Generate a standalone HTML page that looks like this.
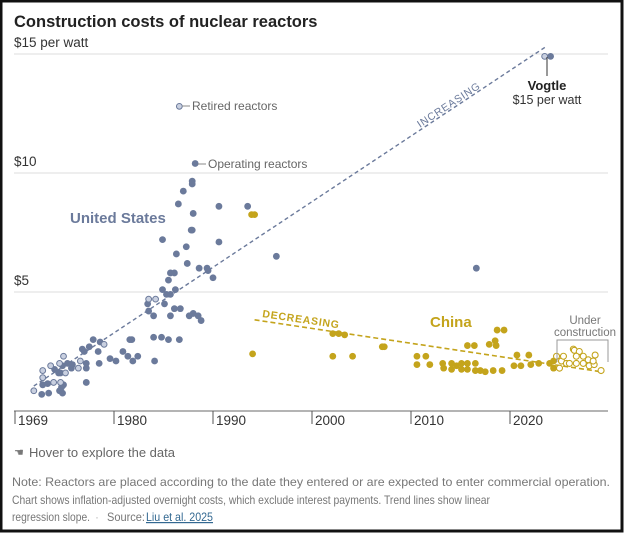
<!DOCTYPE html>
<html><head><meta charset="utf-8"><style>
html,body{margin:0;padding:0;background:#fff}
svg{display:block;font-family:"Liberation Sans",sans-serif}
</style></head><body>
<svg id="chart" width="624" height="533" viewBox="0 0 624 533">
<rect x="1" y="1" width="621" height="530" fill="#fff" stroke="#111" stroke-width="3"/>
<text x="14" y="27" font-size="16.5" font-weight="bold" fill="#222">Construction costs of nuclear reactors</text>
<g id="grid"></g>
<g id="axis"></g>
<g id="trends"></g>
<g id="marks"></g>
<g id="notes"></g>
<text x="29" y="457" font-size="13" fill="#666">Hover to explore the data</text>
<text x="14" y="456" font-size="11" fill="#777">☚</text>
<text x="12" y="486" font-size="12" fill="#777" textLength="598" lengthAdjust="spacingAndGlyphs">Note: Reactors are placed according to the date they entered or are expected to enter commercial operation.</text>
<text x="12" y="504" font-size="12" fill="#777" textLength="478" lengthAdjust="spacingAndGlyphs">Chart shows inflation-adjusted overnight costs, which exclude interest payments. Trend lines show linear</text>
<text x="12" y="521" font-size="12" fill="#777" textLength="78" lengthAdjust="spacingAndGlyphs">regression slope.</text>
<text x="95" y="521" font-size="12" fill="#bbb">·</text>
<text x="107" y="521" font-size="12" fill="#777" textLength="38" lengthAdjust="spacingAndGlyphs">Source:</text>
<text x="146" y="521" font-size="12" fill="#326891" text-decoration="underline" textLength="67" lengthAdjust="spacingAndGlyphs">Liu et al. 2025</text>
</svg>
<script>
const yTicks=[15,10,5];
const yTickLabels=["$15 per watt","$10","$5"];
const xTicks=[1970,1980,1990,2000,2010,2020];
const xTickLabels=["1969","1980","1990","2000","2010","2020"];
const usYears=[1984.9,1987.8,1987.3,1990.6,1986.3,1996.4,1987.4,1988.6,1989.4,1989.5,1985.7,1986.1,1990.0,1985.5,1984.9,1986.2,1985.3,1985.7,1983.4,1985.1,1983.5,1986.1,1986.7,1985.7,1984.0,1987.6,1988.0,1988.5,1988.8,1984.0,1984.8,1985.5,1986.6,1981.6,1981.8,1980.9,1981.4,1982.4,1981.9,1984.1,1979.6,1980.2,1978.5,1978.4,1977.9,1978.6,1977.5,1976.8,1977.0,1977.2,1977.2,1977.2,1974.0,1974.4,1974.8,1975.3,1975.7,1975.8,1974.6,1973.3,1972.8,1974.9,1974.7,1974.5,1974.8,1973.4,1972.7,1987.9,1987.9,1987.0,1986.5,1990.6,1993.5,1988.0,1987.9,1988.2,2016.6,2024.1];
const usValues=[7.2,7.6,6.9,7.1,6.6,6.5,6.2,6.0,6.0,5.9,5.8,5.8,5.6,5.5,5.1,5.1,4.9,4.9,4.5,4.5,4.2,4.3,4.3,4.0,4.0,4.0,4.1,4.0,3.8,3.1,3.1,3.0,3.0,3.0,3.0,2.5,2.3,2.3,2.1,2.1,2.2,2.1,2.0,2.5,3.0,2.9,2.7,2.6,2.5,2.0,1.8,1.2,1.75,1.6,1.9,2.0,1.8,1.95,1.6,1.15,1.1,1.1,1.0,0.85,0.75,0.75,0.7,9.66,9.54,9.24,8.7,8.6,8.6,8.3,7.6,10.4,6.0,14.9];
const retiredYears=[1983.5,1984.2,1979.0,1976.6,1974.9,1974.5,1973.6,1972.8,1975.1,1976.4,1972.8,1973.9,1974.6,1971.9,1986.6,2023.5];
const retiredValues=[4.7,4.7,2.8,2.1,2.3,2.0,1.9,1.7,1.6,1.8,1.4,1.2,1.2,0.85,12.8,14.9];
const cnYears=[1993.9,1994.2,1994.0,2002.1,2002.7,2003.3,2007.1,2007.3,2002.1,2004.1,2010.6,2011.5,2010.6,2011.9,2013.2,2013.3,2014.1,2014.1,2014.6,2015.1,2015.1,2015.7,2015.7,2016.5,2016.5,2017.0,2017.5,2018.3,2019.2,2015.7,2016.4,2017.9,2018.5,2018.6,2018.7,2019.4,2020.4,2020.7,2021.1,2021.9,2022.1,2022.9,2024.0,2024.4,2024.4];
const cnValues=[8.25,8.25,2.4,3.25,3.25,3.2,2.7,2.7,2.3,2.3,2.3,2.3,1.95,1.95,2.0,1.8,2.0,1.75,1.9,2.0,1.75,2.0,1.75,2.0,1.7,1.7,1.65,1.7,1.7,2.75,2.75,2.8,2.95,2.75,3.4,3.4,1.9,2.35,1.9,2.35,1.95,2.0,2.0,2.1,1.8];
const ucYears=[2024.7,2025.2,2025.4,2025.7,2026.4,2026.5,2027.0,2026.7,2027.4,2027.9,2026.7,2027.4,2028.0,2028.5,2028.6,2028.4,2029.2,2026.0,2025.0];
const ucValues=[2.3,2.1,2.3,2.0,2.6,2.55,2.5,2.3,2.3,2.15,2.0,2.0,1.9,1.95,2.35,2.1,1.7,2.0,1.8];
const usTrend=[[1971.9,1.05],[2023.6,15.3]];
const cnTrend=[[1994.2,3.83],[2029.2,1.65]];

const NS="http://www.w3.org/2000/svg";
const X=yr=>114+(yr-1980)*9.9;
const Y=v=>411-v*23.8;
const BLUE="#6b7a9b",GOLD="#c4a41c";
function mk(parent,tag,attrs){const e=document.createElementNS(NS,tag);for(const k in attrs)e.setAttribute(k,attrs[k]);document.getElementById(parent).appendChild(e);return e;}

yTicks.forEach((v,i)=>{
  const l=mk('grid','line',{x1:14,x2:608,y1:Y(v),y2:Y(v),stroke:'#e3e3e3','stroke-width':1.3});
  
  
  const t=mk('grid','text',{x:14,y:Y(v)-7,'font-size':13.5,fill:'#333'});
  t.textContent=yTickLabels[i];
  
  
});
const ax=mk('axis','line',{x1:14,x2:608,y1:411,y2:411,stroke:'#888','stroke-width':1.3});


xTicks.forEach((yr,i)=>{
  const l=mk('axis','line',{x1:X(yr),x2:X(yr),y1:411,y2:424,stroke:'#555','stroke-width':1});
  
  
  const t=mk('axis','text',{x:X(yr)+3,y:425,'font-size':13.5,fill:'#333'});
  t.textContent=xTickLabels[i];
  
  
});
// trends
const tu=mk('trends','line',{x1:X(usTrend[0][0]),y1:Y(usTrend[0][1]),x2:X(usTrend[1][0]),y2:Y(usTrend[1][1]),stroke:BLUE,'stroke-width':1.4,'stroke-dasharray':'4,3'});


const tc=mk('trends','line',{x1:X(cnTrend[0][0]),y1:Y(cnTrend[0][1]),x2:X(cnTrend[1][0]),y2:Y(cnTrend[1][1]),stroke:GOLD,'stroke-width':1.6,'stroke-dasharray':'5,3'});


// marks
usYears.forEach((yr,i)=>{
  const c=mk('marks','circle',{cx:X(yr),cy:Y(usValues[i]),r:3.4,fill:BLUE});
  
  
});
retiredYears.forEach((yr,i)=>{
  const c=mk('marks','circle',{cx:X(yr),cy:Y(retiredValues[i]),r:2.9,fill:'#c9d0e0',stroke:BLUE,'stroke-width':1});
  
  
});
cnYears.forEach((yr,i)=>{
  const c=mk('marks','circle',{cx:X(yr),cy:Y(cnValues[i]),r:3.4,fill:GOLD});
  
  
});
ucYears.forEach((yr,i)=>{
  const c=mk('marks','circle',{cx:X(yr),cy:Y(ucValues[i]),r:3,fill:'#fff',stroke:GOLD,'stroke-width':1.1});
  
  
});
</script>
<svg width="624" height="533" style="position:absolute;left:0;top:0;font-family:'Liberation Sans',sans-serif;pointer-events:none">
<line x1="182" y1="106" x2="190" y2="106" stroke="#888"/>
<text x="192" y="110" font-size="12" fill="#666">Retired reactors</text>
<line x1="198" y1="164" x2="206" y2="164" stroke="#888"/>
<text x="208" y="168" font-size="12" fill="#666">Operating reactors</text>
<text x="70" y="223" font-size="15" font-weight="bold" fill="#6b7a9b">United States</text>
<text x="430" y="327" font-size="15" font-weight="bold" fill="#c4a41c">China</text>
<text transform="translate(420,128) rotate(-33.4)" font-size="10.5" fill="#6b7a9b" letter-spacing="0.8">INCREASING</text>
<text transform="translate(262,317) rotate(8.4)" font-size="10.5" font-weight="bold" fill="#c4a41c" letter-spacing="0.8">DECREASING</text>
<line x1="547" y1="57" x2="547" y2="76" stroke="#333"/>
<text x="547" y="90" font-size="13" font-weight="bold" fill="#222" text-anchor="middle">Vogtle</text>
<text x="547" y="104" font-size="12.5" fill="#333" text-anchor="middle">$15 per watt</text>
<text x="585" y="324" font-size="11.5" fill="#777" text-anchor="middle">Under</text>
<text x="585" y="336" font-size="11.5" fill="#777" text-anchor="middle">construction</text>
<polyline points="557,362 557,340 608,340 608,362" fill="none" stroke="#999"/>
</svg>
</body></html>
